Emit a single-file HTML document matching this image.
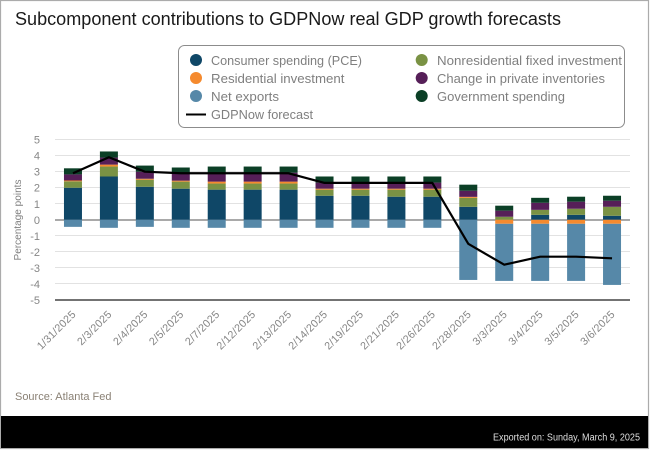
<!DOCTYPE html>
<html lang="en">
<head>
<meta charset="utf-8">
<title>Subcomponent contributions to GDPNow real GDP growth forecasts</title>
<style>
html,body{margin:0;padding:0;background:#fff;width:650px;height:450px;overflow:hidden}
svg{display:block;font-family:"Liberation Sans",sans-serif}
</style>
</head>
<body>
<svg id="chart" width="650" height="450" viewBox="0 0 650 450" xmlns="http://www.w3.org/2000/svg">
  <rect x="0.5" y="0.5" width="648" height="448" fill="#fff" stroke="#ababab" stroke-width="1.2"/>
  <text x="15" y="25" font-size="18.5" fill="#1a1a1a" textLength="546" lengthAdjust="spacingAndGlyphs">Subcomponent contributions to GDPNow real GDP growth forecasts</text>

  <g font-size="13" fill="#7f7f7f">
    <rect x="178.5" y="45.5" width="446" height="82" rx="6" fill="#fff" stroke="#8c8c8c"/>
    <circle cx="196" cy="60" r="6" fill="#0f4767"/>
    <text x="211" y="65" textLength="151" lengthAdjust="spacingAndGlyphs">Consumer spending (PCE)</text>
    <circle cx="196" cy="78" r="6" fill="#f58a2e"/>
    <text x="211" y="83" textLength="133.5" lengthAdjust="spacingAndGlyphs">Residential investment</text>
    <circle cx="196" cy="96" r="6" fill="#5688a8"/>
    <text x="211" y="101" textLength="68" lengthAdjust="spacingAndGlyphs">Net exports</text>
    <line x1="186" x2="206" y1="114.5" y2="114.5" stroke="#000" stroke-width="2"/>
    <text x="211" y="119" textLength="102" lengthAdjust="spacingAndGlyphs">GDPNow forecast</text>
    <circle cx="421.7" cy="60" r="6" fill="#7a9244"/>
    <text x="437" y="65" textLength="185" lengthAdjust="spacingAndGlyphs">Nonresidential fixed investment</text>
    <circle cx="421.7" cy="78" r="6" fill="#561f58"/>
    <text x="437" y="83" textLength="168" lengthAdjust="spacingAndGlyphs">Change in private inventories</text>
    <circle cx="421.7" cy="96" r="6" fill="#0b3f26"/>
    <text x="437" y="101" textLength="128" lengthAdjust="spacingAndGlyphs">Government spending</text>
  </g>

  <g id="grid"></g>
  <g id="bars"></g>
  <g id="axes"></g>
  <g id="line"></g>

  <text transform="translate(21,220) rotate(-90)" text-anchor="middle" font-size="10.5" fill="#7f7f7f" textLength="81" lengthAdjust="spacingAndGlyphs">Percentage points</text>
  <text x="15" y="400" font-size="11" fill="#8a8175" textLength="96.5" lengthAdjust="spacingAndGlyphs">Source: Atlanta Fed</text>
  <rect x="1" y="416" width="647" height="32" fill="#000"/>
  <text x="640" y="440.5" text-anchor="end" font-size="10" fill="#dedede" textLength="147" lengthAdjust="spacingAndGlyphs">Exported on: Sunday, March 9, 2025</text>
</svg>
<script>
var categories = ["1/31/2025","2/3/2025","2/4/2025","2/5/2025","2/7/2025","2/12/2025","2/13/2025","2/14/2025","2/19/2025","2/21/2025","2/26/2025","2/28/2025","3/3/2025","3/4/2025","3/5/2025","3/6/2025"];
var yTicks = [5,4,3,2,1,0,-1,-2,-3,-4,-5];
var pce = [2.0,2.7,2.06,1.94,1.88,1.88,1.88,1.5,1.5,1.44,1.44,0.81,0,0.31,0.31,0.25];
var nonresidential = [0.4,0.62,0.44,0.44,0.38,0.38,0.38,0.38,0.38,0.44,0.44,0.56,0.19,0.31,0.38,0.56];
var residential = [0.05,0.12,0.06,0.06,0.12,0.12,0.12,0.06,0.06,0.06,0.06,0.06,-0.25,-0.25,-0.25,-0.25];
var inventories = [0.38,0.44,0.44,0.44,0.56,0.56,0.56,0.38,0.38,0.38,0.38,0.38,0.38,0.44,0.44,0.38];
var government = [0.38,0.38,0.38,0.38,0.38,0.38,0.38,0.38,0.38,0.38,0.38,0.38,0.31,0.31,0.31,0.31];
var netExports = [-0.44,-0.5,-0.44,-0.5,-0.5,-0.5,-0.5,-0.5,-0.5,-0.5,-0.5,-3.75,-3.56,-3.56,-3.56,-3.81];
var forecast = [2.9,3.9,3.0,2.9,2.9,2.9,2.9,2.3,2.3,2.3,2.3,-1.5,-2.8,-2.3,-2.3,-2.4];

var NS = 'http://www.w3.org/2000/svg';
var plotLeft = 55, plotRight = 630, zeroY = 219.8, unit = 16.04, barW = 18;
function yScale(v){ return zeroY - v * unit; }
function xBand(i){ return plotLeft + (plotRight - plotLeft) * (i + 0.5) / categories.length; }
function make(tag, attrs){
  var el = document.createElementNS(NS, tag);
  for (var k in attrs) el.setAttribute(k, attrs[k]);
  return el;
}
var gridG = document.getElementById('grid');
var barsG = document.getElementById('bars');
var axesG = document.getElementById('axes');
var lineG = document.getElementById('line');

yTicks.forEach(function(t){
  var y = yScale(t);
  var label = make('text', {x: 40, y: y + 4, 'text-anchor': 'end', 'font-size': 11, fill: '#868686'});
  
  
  label.textContent = t;
  axesG.appendChild(label);
  if (t === 0 || t === -5) return;
  var crisp = Math.floor(y) + 0.5;
  var g = make('line', {x1: plotLeft, x2: plotRight, y1: crisp, y2: crisp, stroke: '#e2e2e2', 'stroke-width': 1});
  
  
  gridG.appendChild(g);
});
var zeroLine = make('line', {x1: plotLeft, x2: plotRight, y1: 220, y2: 220, stroke: '#a9a9a9', 'stroke-width': 2});


gridG.appendChild(zeroLine);
var bottomLine = make('line', {x1: plotLeft, x2: plotRight, y1: 300, y2: 300, stroke: '#737373', 'stroke-width': 2});


axesG.appendChild(bottomLine);

var seriesList = [
  {key: 'pce', values: pce, color: '#0f4767'},
  {key: 'nonresidential', values: nonresidential, color: '#7a9244'},
  {key: 'residential', values: residential, color: '#f58a2e'},
  {key: 'inventories', values: inventories, color: '#561f58'},
  {key: 'government', values: government, color: '#0b3f26'},
  {key: 'net-exports', values: netExports, color: '#5688a8'}
];
categories.forEach(function(cat, i){
  var pos = 0, neg = 0, cx = xBand(i);
  seriesList.forEach(function(s){
    var v = s.values[i];
    if (!v) return;
    var a = v > 0 ? pos : neg;
    var b = a + v;
    if (v > 0) pos = b; else neg = b;
    var top = Math.min(yScale(a), yScale(b));
    var r = make('rect', {x: cx - barW / 2, y: top, width: barW, height: Math.abs(v) * unit, fill: s.color});
    
    
    barsG.appendChild(r);
  });
  var tx = cx + 3.5, ty = 315;
  var lab = make('text', {x: tx, y: ty, transform: 'rotate(-45 ' + tx + ' ' + ty + ')', 'text-anchor': 'end', 'font-size': 10.8, 'letter-spacing': 0.2, fill: '#868686'});
  
  
  lab.textContent = cat;
  axesG.appendChild(lab);
});
var pts = forecast.map(function(v, i){ return xBand(i) + ',' + yScale(v); }).join(' ');
var fl = make('polyline', {points: pts, fill: 'none', stroke: '#000', 'stroke-width': 2.2, 'stroke-linejoin': 'round'});


lineG.appendChild(fl);
</script>
</body>
</html>
